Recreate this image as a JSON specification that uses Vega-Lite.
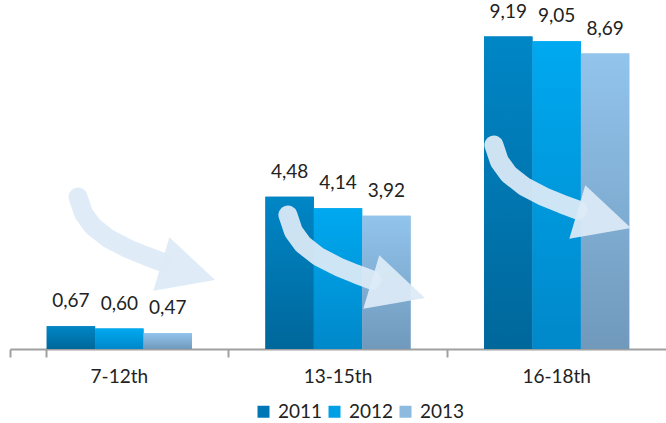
{
  "$schema": "https://vega.github.io/schema/vega-lite/v6.json",
  "width": 656,
  "height": 340,
  "autosize": {"type": "none"},
  "padding": {"left": 10, "top": 9, "right": 0, "bottom": 74},
  "background": "white",
  "config": {
    "view": {"stroke": null},
    "font": "Lato",
    "locale": {"number": {"decimal": ",", "thousands": ".", "grouping": [3], "currency": ["", ""]}}
  },
  "datasets": {
    "bars": [
      {"group": "7-12th", "year": "2011", "value": 0.67},
      {"group": "7-12th", "year": "2012", "value": 0.60},
      {"group": "7-12th", "year": "2013", "value": 0.47},
      {"group": "13-15th", "year": "2011", "value": 4.48},
      {"group": "13-15th", "year": "2012", "value": 4.14},
      {"group": "13-15th", "year": "2013", "value": 3.92},
      {"group": "16-18th", "year": "2011", "value": 9.19},
      {"group": "16-18th", "year": "2012", "value": 9.05},
      {"group": "16-18th", "year": "2013", "value": 8.69}
    ],
    "arrowBody": [
      {"arrow": 1, "k": 1, "gx": 0.311, "v": 4.471},
      {"arrow": 1, "k": 2, "gx": 0.336, "v": 3.990},
      {"arrow": 1, "k": 3, "gx": 0.380, "v": 3.600},
      {"arrow": 1, "k": 4, "gx": 0.450, "v": 3.250},
      {"arrow": 1, "k": 5, "gx": 0.540, "v": 2.950},
      {"arrow": 1, "k": 6, "gx": 0.622, "v": 2.735},
      {"arrow": 1, "k": 7, "gx": 0.695, "v": 2.559},
      {"arrow": 2, "k": 1, "gx": 1.271, "v": 3.942},
      {"arrow": 2, "k": 2, "gx": 1.296, "v": 3.461},
      {"arrow": 2, "k": 3, "gx": 1.340, "v": 3.071},
      {"arrow": 2, "k": 4, "gx": 1.410, "v": 2.721},
      {"arrow": 2, "k": 5, "gx": 1.500, "v": 2.421},
      {"arrow": 2, "k": 6, "gx": 1.582, "v": 2.206},
      {"arrow": 2, "k": 7, "gx": 1.655, "v": 2.030},
      {"arrow": 3, "k": 1, "gx": 2.213, "v": 6.000},
      {"arrow": 3, "k": 2, "gx": 2.238, "v": 5.519},
      {"arrow": 3, "k": 3, "gx": 2.282, "v": 5.129},
      {"arrow": 3, "k": 4, "gx": 2.352, "v": 4.779},
      {"arrow": 3, "k": 5, "gx": 2.442, "v": 4.479},
      {"arrow": 3, "k": 6, "gx": 2.524, "v": 4.264},
      {"arrow": 3, "k": 7, "gx": 2.597, "v": 4.088}
    ],
    "arrowHead": [
      {"arrow": 1, "gx": 0.815, "v": 2.265},
      {"arrow": 2, "gx": 1.775, "v": 1.736},
      {"arrow": 3, "gx": 2.717, "v": 3.794}
    ]
  },
  "resolve": {"scale": {"x": "independent", "xOffset": "independent"}, "axis": {"x": "independent"}},
  "layer": [
    {
      "data": {"name": "bars"},
      "mark": {"type": "bar"},
      "encoding": {
        "x": {
          "field": "group", "type": "nominal", "sort": ["7-12th", "13-15th", "16-18th"],
          "scale": {"paddingInner": 0.336, "paddingOuter": 0.168},
          "axis": {
            "orient": "bottom", "offset": 0,
            "title": null, "labels": false, "domainColor": "#a0a0a0", "domainWidth": 2,
            "tickColor": "#a0a0a0", "tickWidth": 2, "tickSize": 8,
            "bandPosition": -0.253, "tickExtra": true
          }
        },
        "xOffset": {"field": "year", "type": "nominal", "sort": ["2011", "2012", "2013"]},
        "y": {"field": "value", "type": "quantitative", "scale": {"domain": [0, 10]}, "axis": null},
        "color": {
          "field": "year", "type": "nominal",
          "scale": {"domain": ["2011", "2012", "2013"], "range": ["#0077B5", "#00A0E6", "#8DBBE0"]},
          "legend": {
            "title": null, "orient": "none", "legendX": 244, "legendY": 393, "direction": "horizontal",
            "symbolType": "square", "symbolSize": 144, "symbolStrokeWidth": 0,
            "labelFontSize": 19, "labelColor": "#222", "labelFont": "Lato",
            "columnPadding": 2, "labelOffset": 5
          }
        }
      }
    },
    {
      "data": {"name": "bars"},
      "mark": {"type": "bar"},
      "encoding": {
        "x": {
          "field": "group", "type": "nominal", "sort": ["7-12th", "13-15th", "16-18th"],
          "scale": {"paddingInner": 0.336, "paddingOuter": 0.168}, "axis": null
        },
        "xOffset": {"field": "year", "type": "nominal", "sort": ["2011", "2012", "2013"]},
        "y": {"field": "value", "type": "quantitative"},
        "fill": {
          "condition": [
            {"test": "datum.year === '2011'", "value": {"gradient": "linear", "x1": 0, "y1": 0, "x2": 0, "y2": 1, "stops": [{"offset": 0, "color": "#0086C6"}, {"offset": 1, "color": "#00679B"}]}},
            {"test": "datum.year === '2012'", "value": {"gradient": "linear", "x1": 0, "y1": 0, "x2": 0, "y2": 1, "stops": [{"offset": 0, "color": "#00A9F0"}, {"offset": 1, "color": "#0088CA"}]}}
          ],
          "value": {"gradient": "linear", "x1": 0, "y1": 0, "x2": 0, "y2": 1, "stops": [{"offset": 0, "color": "#92C4EC"}, {"offset": 1, "color": "#7099BC"}]}
        }
      }
    },
    {
      "data": {"name": "arrowBody"},
      "mark": {"type": "trail", "size": 19, "color": "#DDEBF6", "opacity": 0.93},
      "encoding": {
        "x": {"field": "gx", "type": "quantitative", "scale": {"domain": [0, 3], "nice": false, "zero": false}, "axis": null},
        "y": {"field": "v", "type": "quantitative"},
        "detail": {"field": "arrow", "type": "nominal"},
        "order": {"field": "k", "type": "quantitative"}
      }
    },
    {
      "data": {"name": "arrowHead"},
      "mark": {"type": "point", "filled": true, "shape": "M -1 -1 L 1 0 L -1 1 Z", "size": 3136, "angle": 16.6, "color": "#DDEBF6", "opacity": 0.93},
      "encoding": {
        "x": {"field": "gx", "type": "quantitative", "scale": {"domain": [0, 3], "nice": false, "zero": false}, "axis": null},
        "y": {"field": "v", "type": "quantitative"}
      }
    },
    {
      "data": {"name": "bars"},
      "mark": {"type": "text", "baseline": "bottom", "dy": -15, "fontSize": 19, "font": "Lato", "color": "#222"},
      "encoding": {
        "x": {
          "field": "group", "type": "nominal", "sort": ["7-12th", "13-15th", "16-18th"],
          "scale": {"paddingInner": 0.336, "paddingOuter": 0.168},
          "axis": {
            "orient": "bottom", "offset": 0,
            "title": null, "labelAngle": 0, "labelFontSize": 19, "labelColor": "#222",
            "labelFont": "Lato", "domain": false, "ticks": false, "labelPadding": 18
          }
        },
        "xOffset": {"field": "year", "type": "nominal", "sort": ["2011", "2012", "2013"]},
        "y": {"field": "value", "type": "quantitative"},
        "text": {"field": "value", "type": "quantitative", "format": ".2f"}
      }
    }
  ]
}
